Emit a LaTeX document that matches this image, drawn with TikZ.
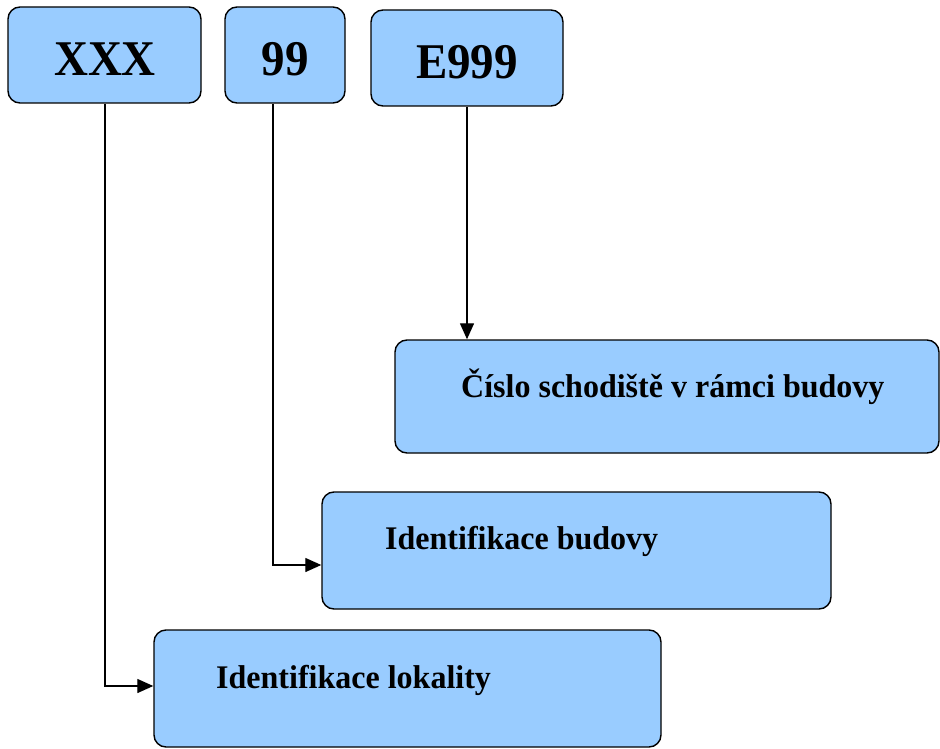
\documentclass[tikz,border=0pt]{standalone}
\usepackage{fontspec}
\setmainfont{Liberation Serif}
\usetikzlibrary{fit,arrows.meta}
\definecolor{boxblue}{RGB}{153,204,255}
\newcommand{\bigtext}[1]{\scalebox{0.94}[1]{#1}}
\newcommand{\midtext}[1]{\scalebox{0.97}[1]{#1}}
\tikzset{
  box/.style={draw=black, fill=boxblue, line width=1.4pt, rounded corners=12pt, inner sep=0pt},
  bigtxt/.style={font=\fontsize{50}{55}\selectfont\bfseries, inner sep=0pt},
  midtxt/.style={font=\fontsize{33}{38}\selectfont\bfseries, inner sep=0pt, anchor=base west},
  conn/.style={draw=black, line width=1.3pt, -{Triangle[length=16pt,width=14pt]}},
}
\begin{document}
\begin{tikzpicture}[x=1pt,y=-1pt]
\useasboundingbox (0,0) rectangle (940,749);
\node[box, fit={(8,7)(201,103)}] (xxx) {};
\node[box, fit={(225,7)(345,103)}] (b99) {};
\node[box, fit={(371,10)(563,106)}] (e999) {};
\node[box, fit={(395,340)(939,453)}] (cis) {};
\node[box, fit={(322,492)(831,609)}] (bud) {};
\node[box, fit={(154,630)(661,747)}] (lok) {};
\node[bigtxt, anchor=base] (txxx) at (105,76) {\bigtext{XXX}};
\node[bigtxt, anchor=base] (t99) at (285,76) {\bigtext{99}};
\node[bigtxt, anchor=base] (te999) at (467,79) {\bigtext{E999}};
\node[midtxt] (tcis) at (461,397) {\midtext{Číslo schodiště v rámci budovy}};
\node[midtxt] (tbud) at (385,549) {\midtext{Identifikace budovy}};
\node[midtxt] (tlok) at (216,688) {\midtext{Identifikace lokality}};
\draw[conn] (e999.south) -- (e999.south |- cis.north);
\draw[conn] ([xshift=-12pt]b99.south) |- ([yshift=-14.5pt]bud.west);
\draw[conn] ([xshift=0.5pt]xxx.south) |- ([yshift=2.5pt]lok.west);
\end{tikzpicture}
\end{document}
